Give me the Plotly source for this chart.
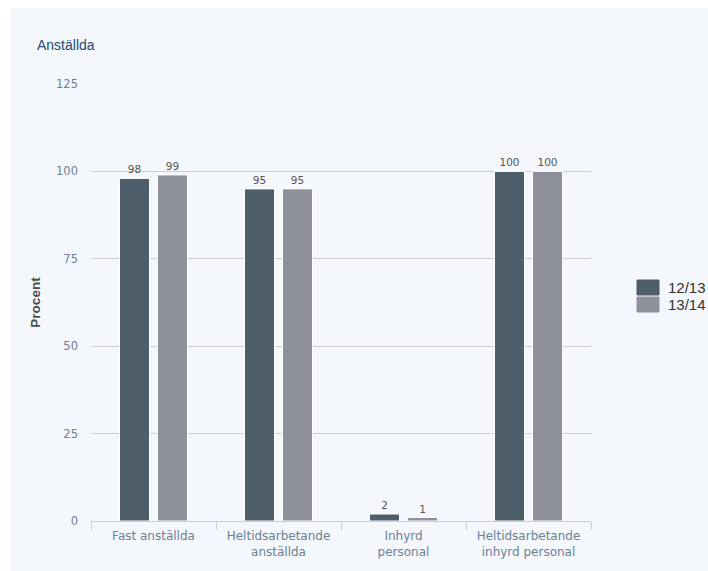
import plotly.graph_objects as go

categories = ["Fast anställda", "Heltidsarbetande<br>anställda", "Inhyrd<br>personal", "Heltidsarbetande<br>inhyrd personal"]
series_names = ["12/13", "13/14"]
values_1213 = [98, 95, 2, 100]
values_1314 = [99, 95, 1, 100]
y_ticks = [0, 25, 50, 75, 100, 125]

colors = ["#4e5f6b", "#8e919c"]
W, H = 708, 571
ml, mr, mt, mb = 91, 117, 84, 50
pw, ph = W - ml - mr, H - mt - mb

fig = go.Figure()
for name, vals, col in zip(series_names, [values_1213, values_1314], colors):
    fig.add_trace(go.Bar(
        x=categories, y=vals, name=name,
        marker=dict(color=col, line=dict(color="white", width=1)),
        text=[str(v) for v in vals], textposition="outside",
        textfont=dict(family="DejaVu Sans", size=10.5, color="#555555"),
        cliponaxis=False, showlegend=False,
    ))

def px_x(p):
    return (p - ml) / pw

def px_y(p):
    return (H - mb - p) / ph

# panel background
fig.add_shape(type="rect", xref="paper", yref="paper",
              x0=px_x(11), x1=px_x(708), y0=px_y(8), y1=px_y(571),
              fillcolor="#f4f7fb", line=dict(width=0), layer="below")

# title
fig.add_annotation(text="Anställda", xref="paper", yref="paper",
                   x=px_x(35), y=px_y(45), xanchor="left", yanchor="middle",
                   showarrow=False,
                   font=dict(family="Liberation Sans", size=14, color="#274b6d"))

# legend (drawn from series names and colours)
for i, (name, col) in enumerate(zip(series_names, colors)):
    top = 279 + 17 * i
    fig.add_shape(type="rect", xref="paper", yref="paper",
                  x0=px_x(637), x1=px_x(659), y0=px_y(top + 16), y1=px_y(top + 1),
                  fillcolor=col, line=dict(color=col, width=1))
    fig.add_annotation(text=name, xref="paper", yref="paper",
                       x=px_x(666), y=px_y(top + 8.5), xanchor="left", yanchor="middle",
                       showarrow=False,
                       font=dict(family="Liberation Sans", size=15, color="#333333"))

fig.update_layout(
    width=W, height=H,
    margin=dict(l=ml, r=mr, t=mt, b=mb, autoexpand=False),
    paper_bgcolor="white", plot_bgcolor="rgba(0,0,0,0)",
    barmode="group", bargap=0.392, bargroupgap=0.21,
    showlegend=False,
    font=dict(family="DejaVu Sans"),
)
fig.update_xaxes(
    showline=True, linecolor="#c0d0e0", linewidth=1,
    ticks="outside", tickson="boundaries", ticklen=8, tickcolor="#c0d0e0",
    tickfont=dict(family="DejaVu Sans", size=12, color="#6d8096"),
    ticklabelstandoff=4,
    showgrid=False,
)
fig.update_yaxes(
    range=[0, 125], tickvals=y_ticks, ticktext=[str(v) for v in y_ticks],
    showgrid=True, gridcolor="#cccccc", gridwidth=1, zeroline=False,
    tickfont=dict(family="DejaVu Sans", size=11.5, color="#6d8096"),
    ticklabelstandoff=12,
    title=dict(text="<b>Procent</b>", font=dict(family="Liberation Sans", size=13.5, color="#4d4d4d"), standoff=12),
)

fig.write_html("out.html", config={"displayModeBar": False},
               post_script="document.body.style.margin='0';")
